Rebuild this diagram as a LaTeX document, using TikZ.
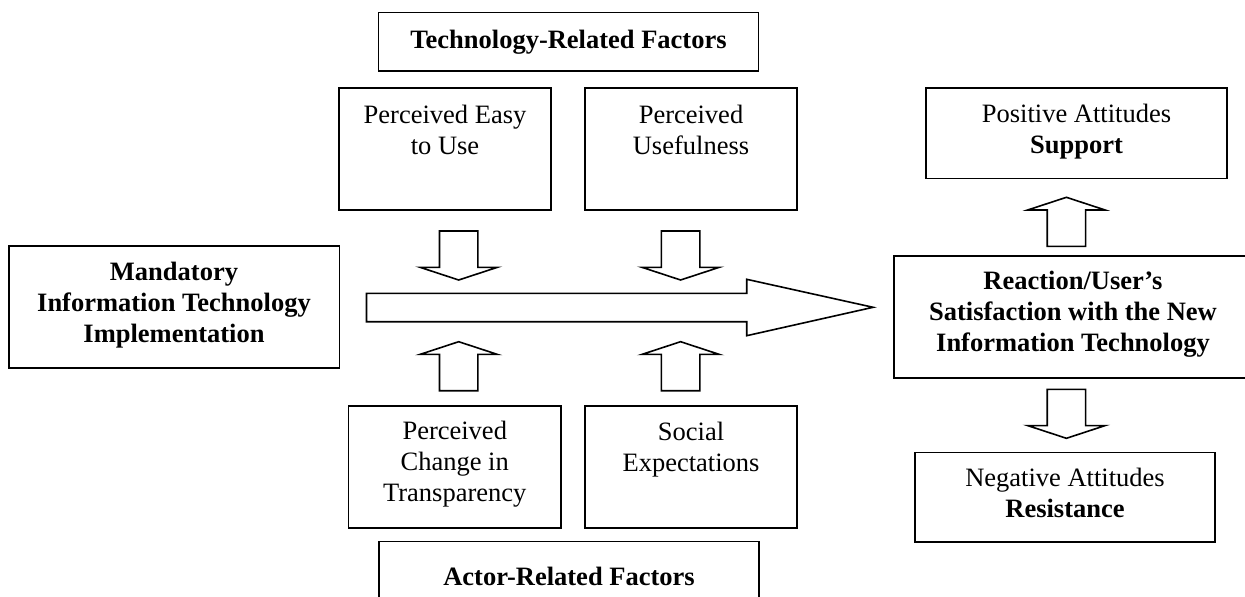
\documentclass[tikz,border=0pt]{standalone}
\usepackage{fontspec}
\setmainfont{Liberation Serif}
\begin{document}
\begin{tikzpicture}[x=1pt,y=-1pt,
  box/.style={draw, line width=1.6pt, inner sep=0pt, rectangle},
  txt/.style={inner sep=0pt, align=center, font=\fontsize{26.5}{31}\selectfont, anchor=base},
  btxt/.style={inner sep=0pt, align=center, font=\fontsize{26.5}{31}\selectfont\bfseries, anchor=base},
  barrow/.style={draw, line width=1.6pt, line join=miter, fill=white},
  pics/dnarrow/.style={code={\draw[barrow] (-19.2,-49) -- (19.2,-49) -- (19.2,-12.7) -- (38.7,-12.7) -- (0,0) -- (-38.7,-12.7) -- (-19.2,-12.7) -- cycle;}},
  pics/uparrow/.style={code={\draw[barrow] (-19.2,49) -- (19.2,49) -- (19.2,12.7) -- (38.7,12.7) -- (0,0) -- (-38.7,12.7) -- (-19.2,12.7) -- cycle;}}]
\useasboundingbox (0,0) rectangle (1245,597);

% boxes
\node[box, minimum width=380.3pt, minimum height=58.7pt] (tech) at (568.5,41.65) {};
\node[box, minimum width=212pt, minimum height=122pt] (easy) at (445,149) {};
\node[box, minimum width=212pt, minimum height=122pt] (useful) at (691,149) {};
\node[box, minimum width=301pt, minimum height=90.3pt] (pos) at (1076.5,133.2) {};
\node[box, minimum width=330.6pt, minimum height=121.7pt] (mand) at (174,306.85) {};
\node[box, minimum width=358pt, minimum height=121.7pt] (react) at (1073,316.85) {};
\node[box, minimum width=212.7pt, minimum height=122.3pt] (change) at (454.75,466.85) {};
\node[box, minimum width=212pt, minimum height=122.3pt] (social) at (691,466.85) {};
\node[box, minimum width=300pt, minimum height=89.4pt] (neg) at (1065,497) {};
\node[box, minimum width=380pt, minimum height=58.7pt] (actor) at (569,571) {};

% texts (anchor base = baseline of the last line)
\node[btxt] (techt) at (568.5,48) {Technology-Related Factors};
\node[txt] (easyt) at (445,154) {Perceived Easy\\to Use};
\node[txt] (usefult) at (691,154) {Perceived\\Usefulness};
\node[txt] (post) at (1076.5,153.5) {Positive Attitudes\\\textbf{Support}};
\node[btxt] (mandt) at (174,342) {Mandatory\\Information Technology\\Implementation};
\node[btxt] (reactt) at (1073,351.5) {Reaction/User’s\\Satisfaction with the New\\Information Technology};
\node[txt] (changet) at (454.75,501) {Perceived\\Change in\\Transparency};
\node[txt] (socialt) at (691,471.5) {Social\\Expectations};
\node[txt] (negt) at (1065,517.5) {Negative Attitudes\\\textbf{Resistance}};
\node[btxt] (actort) at (569,585) {Actor-Related Factors};

% big arrow
\draw[barrow] (366.5,293.3) -- (746.7,293.3) -- (746.7,279.3) -- (873.1,307.3) -- (746.7,335.7) -- (746.7,321.7) -- (366.5,321.7) -- cycle;

% small block arrows
\coordinate (a1) at (458.7,280);
\coordinate (a2) at (680.6,280);
\coordinate (a3) at (458.7,341.7);
\coordinate (a4) at (680.6,341.7);
\coordinate (a5) at (1066.4,197.3);
\coordinate (a6) at (1066.4,438.3);
\pic at (a1) {dnarrow};
\pic at (a2) {dnarrow};
\pic at (a3) {uparrow};
\pic at (a4) {uparrow};
\pic at (a5) {uparrow};
\pic at (a6) {dnarrow};
\end{tikzpicture}
\end{document}
